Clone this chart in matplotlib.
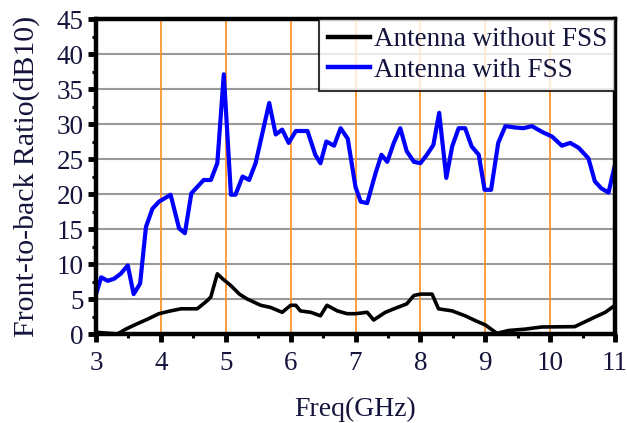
import matplotlib
matplotlib.use("Agg")
import matplotlib.pyplot as plt
from matplotlib.ticker import MultipleLocator

plt.rcParams['font.family'] = ['Liberation Serif', 'DejaVu Serif']

freq_with = [3.0, 3.08, 3.18, 3.28, 3.38, 3.49, 3.58, 3.68, 3.77, 3.87, 3.97, 4.15, 4.28, 4.37,
             4.47, 4.66, 4.77, 4.87, 4.97, 5.08, 5.15, 5.26, 5.36, 5.46, 5.67, 5.77, 5.87, 5.97,
             6.08, 6.26, 6.38, 6.46, 6.55, 6.67, 6.77, 6.88, 7.0, 7.08, 7.18, 7.31, 7.4, 7.49,
             7.59, 7.69, 7.79, 7.9, 8.0, 8.1, 8.2, 8.29, 8.4, 8.49, 8.59, 8.69, 8.79, 8.9,
             8.99, 9.09, 9.2, 9.31, 9.46, 9.59, 9.72, 9.87, 10.03, 10.18, 10.31, 10.44, 10.59,
             10.69, 10.79, 10.9, 11.0]
ratio_with = [5.7, 8.1, 7.6, 7.9, 8.6, 9.8, 5.7, 7.2, 15.3, 17.9, 18.9, 19.9, 15.1, 14.4,
              20.1, 22.0, 22.0, 24.4, 37.1, 19.9, 19.9, 22.5, 22.0, 24.4, 33.0, 28.5, 29.2, 27.3,
              29.0, 29.0, 25.6, 24.4, 27.5, 26.9, 29.4, 27.9, 21.0, 18.9, 18.7, 23.0, 25.6, 24.6,
              27.3, 29.4, 26.1, 24.6, 24.4, 25.6, 27.0, 31.6, 22.3, 26.8, 29.4, 29.4, 26.8, 25.6,
              20.6, 20.6, 27.3, 29.7, 29.5, 29.4, 29.7, 28.9, 28.2, 26.9, 27.3, 26.6, 25.1,
              21.8, 20.8, 20.2, 24.2]

freq_without = [3.0, 3.33, 3.46, 3.62, 3.79, 3.97, 4.15, 4.31, 4.56, 4.72, 4.77, 4.87, 4.95,
                5.08, 5.21, 5.33, 5.54, 5.69, 5.87, 6.0, 6.08, 6.15, 6.31, 6.46, 6.56, 6.72,
                6.87, 7.0, 7.18, 7.28, 7.46, 7.62, 7.79, 7.9, 8.0, 8.18, 8.28, 8.49, 8.69,
                8.85, 9.0, 9.18, 9.36, 9.62, 9.87, 10.38, 10.64, 10.85, 11.0]
ratio_without = [0.25, 0.0, 0.7, 1.4, 2.1, 2.9, 3.3, 3.6, 3.6, 4.8, 5.3, 8.6, 7.9,
                 6.9, 5.7, 5.0, 4.1, 3.8, 3.1, 4.1, 4.1, 3.3, 3.1, 2.6, 4.1, 3.3,
                 2.9, 2.9, 3.1, 2.0, 3.1, 3.7, 4.3, 5.5, 5.7, 5.7, 3.6, 3.3, 2.6,
                 1.9, 1.3, 0.1, 0.5, 0.7, 1.0, 1.05, 2.2, 3.1, 4.1]

x_ticks = [3, 4, 5, 6, 7, 8, 9, 10, 11]
y_ticks = [0, 5, 10, 15, 20, 25, 30, 35, 40, 45]

fig = plt.figure(figsize=(6.27, 4.23), dpi=100)
ax = fig.add_axes([96/627, 1 - 334/423, (615-96)/627, (334-19)/423])

ax.set_xlim(3, 11)
ax.set_ylim(0, 45)
ax.set_xticks(x_ticks)
ax.set_yticks(y_ticks)
ax.xaxis.set_minor_locator(MultipleLocator(0.5))
ax.yaxis.set_minor_locator(MultipleLocator(2.5))

for y in y_ticks[1:-1]:
    ax.axhline(y, color='#999999', lw=1.5, zorder=1)
for x in x_ticks[1:-1]:
    ax.axvline(x, color='#ff8c1a', lw=1.2, zorder=1)

ax.plot(freq_without, ratio_without, color='black', lw=2.6, label='Antenna without FSS', zorder=3)
ax.plot(freq_with, ratio_with, color='#0000ff', lw=3.0, label='Antenna with FSS', zorder=3)

for s in ax.spines.values():
    s.set_linewidth(3.2)
    s.set_zorder(5)

lab_col = '#14143c'
ax.tick_params(axis='both', which='major', direction='out', length=6, width=3.5,
               labelsize=19.5, top=False, right=False, labelcolor=lab_col, pad=3)
ax.tick_params(axis='x', which='major', pad=6)
ax.tick_params(axis='both', which='minor', direction='out', length=3, width=2.2,
               top=False, right=False)

ax.set_xlabel('Freq(GHz)', fontsize=20, labelpad=15, color=lab_col)
ax.set_ylabel('Front-to-back Ratio(dB10)', fontsize=21.5, labelpad=12, color=lab_col)

leg = ax.legend(loc='upper right', fontsize=19.5, frameon=True, fancybox=False,
                edgecolor='black', handlelength=1.55, handletextpad=0.15,
                borderaxespad=0.0, borderpad=0.3, labelspacing=0.2)
leg.get_frame().set_linewidth(1.5)
for t in leg.get_texts():
    t.set_color(lab_col)
for l in leg.get_lines():
    l.set_linewidth(3.2)

fig.savefig('out.png', dpi=100, facecolor='white')
